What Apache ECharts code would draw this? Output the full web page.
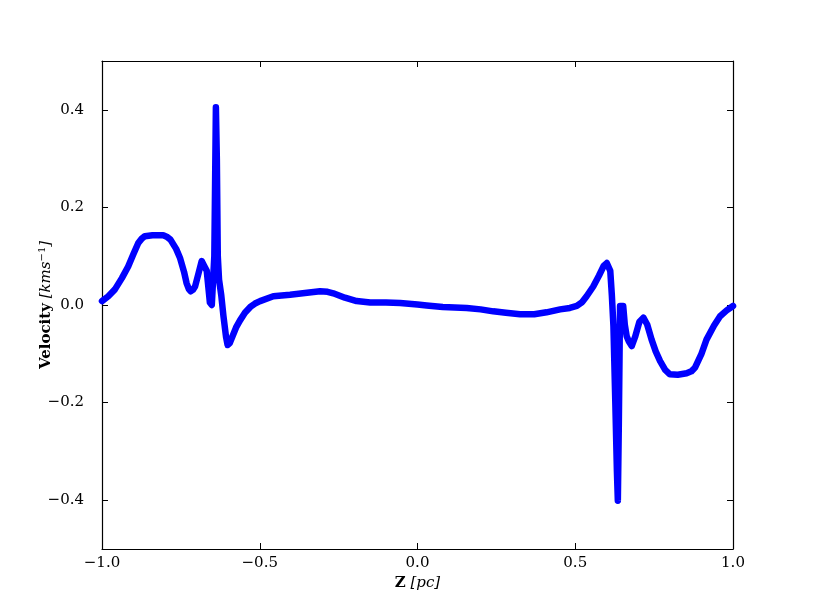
<!DOCTYPE html>
<html><head><meta charset="utf-8">
<script src="https://cdn.jsdelivr.net/npm/echarts@6/dist/echarts.min.js"></script>
<style>html,body{margin:0;padding:0;background:#fff}#c{width:814px;height:610px}</style>
</head><body><div id="c"></div>
<script>
const zValues = [-1.0,-0.98,-0.959,-0.937,-0.917,-0.9,-0.885,-0.874,-0.864,-0.852,-0.84,-0.82,-0.806,-0.795,-0.783,-0.765,-0.753,-0.74,-0.732,-0.725,-0.719,-0.712,-0.705,-0.694,-0.684,-0.676,-0.668,-0.663,-0.658,-0.652,-0.647,-0.644,-0.639,-0.636,-0.633,-0.629,-0.622,-0.615,-0.607,-0.602,-0.595,-0.585,-0.575,-0.563,-0.547,-0.53,-0.515,-0.499,-0.457,-0.404,-0.35,-0.309,-0.285,-0.267,-0.23,-0.193,-0.15,-0.1,-0.055,0.0,0.029,0.08,0.156,0.2,0.24,0.28,0.325,0.37,0.409,0.452,0.483,0.505,0.522,0.536,0.557,0.575,0.59,0.6,0.606,0.611,0.616,0.621,0.627,0.632,0.635,0.638,0.642,0.647,0.652,0.657,0.663,0.67,0.679,0.69,0.703,0.716,0.728,0.742,0.755,0.769,0.785,0.8,0.825,0.853,0.868,0.88,0.9,0.916,0.94,0.959,0.98,1.0];
const velocity = [0.008,0.018,0.032,0.055,0.079,0.105,0.127,0.136,0.141,0.142,0.143,0.143,0.143,0.140,0.134,0.115,0.097,0.068,0.045,0.033,0.028,0.031,0.038,0.065,0.090,0.080,0.070,0.066,0.005,0.0,0.0,0.1,0.405,0.3,0.1,0.052,0.02,-0.023,-0.065,-0.082,-0.078,-0.062,-0.046,-0.032,-0.016,-0.004,0.003,0.008,0.018,0.021,0.025,0.028,0.027,0.024,0.015,0.008,0.005,0.005,0.004,0.001,-0.001,-0.004,-0.006,-0.009,-0.013,-0.016,-0.019,-0.019,-0.015,-0.009,-0.006,-0.002,0.006,0.018,0.038,0.06,0.08,0.086,0.082,0.07,0.02,-0.043,-0.2,-0.34,-0.401,-0.25,-0.002,-0.002,-0.002,-0.04,-0.064,-0.075,-0.084,-0.065,-0.035,-0.026,-0.04,-0.071,-0.095,-0.115,-0.133,-0.142,-0.143,-0.140,-0.136,-0.128,-0.1,-0.071,-0.042,-0.023,-0.011,-0.002];
const xTicks = [-1.0,-0.5,0.0,0.5,1.0];
const yTicks = [-0.4,-0.2,0.0,0.2,0.4];

const chart = echarts.init(document.getElementById('c'));
const font = 'DejaVu Serif';
const lab = {fontFamily: font, fontSize: 15, color: '#000'};
const fmt = v => (v < 0 ? '\u2212' : '') + Math.abs(v).toFixed(1);
const axisBase = {
  type: 'value', splitLine: {show: false},
  axisLine: {show: true, onZero: false, lineStyle: {color: '#000', width: 1.2}},
  axisTick: {show: true, inside: true, length: 6, lineStyle: {color: '#000'}}
};
chart.setOption({
  animation: false,
  grid: {left: 102, right: 81, top: 61, bottom: 61},
  xAxis: [
    Object.assign({}, axisBase, {min: -1, max: 1, position: 'bottom',
      axisTick: Object.assign({}, axisBase.axisTick, {customValues: xTicks}),
      axisLabel: Object.assign({}, lab, {customValues: xTicks, formatter: fmt, margin: 7}),
      name: '{b|Z} {i|[pc]}', nameLocation: 'middle', nameGap: 26,
      nameTextStyle: {fontFamily: font, fontSize: 15, color: '#000', rich: {
        b: {fontFamily: font, fontSize: 15, fontWeight: 'bold', color: '#000'},
        i: {fontFamily: font, fontSize: 15, fontStyle: 'italic', color: '#000'}}}}),
    Object.assign({}, axisBase, {min: -1, max: 1, position: 'top',
      axisTick: Object.assign({}, axisBase.axisTick, {customValues: xTicks}),
      axisLabel: {show: false}})
  ],
  yAxis: [
    Object.assign({}, axisBase, {min: -0.5, max: 0.5, position: 'left',
      axisTick: Object.assign({}, axisBase.axisTick, {customValues: yTicks}),
      axisLabel: Object.assign({}, lab, {customValues: yTicks, formatter: fmt, margin: 18}),
      name: '{b|Velocity} {i|[kms}{s|\u22121}{i|]}', nameLocation: 'middle', nameGap: 47, nameRotate: 90,
      nameMoveOverlap: false,
      nameTextStyle: {fontFamily: font, fontSize: 15, color: '#000', rich: {
        b: {fontFamily: font, fontSize: 15, fontWeight: 'bold', color: '#000'},
        i: {fontFamily: font, fontSize: 15, fontStyle: 'italic', color: '#000'},
        s: {fontFamily: font, fontSize: 10, color: '#000', verticalAlign: 'top', padding: [0, 0, 8, 0]}}}}),
    Object.assign({}, axisBase, {min: -0.5, max: 0.5, position: 'right',
      axisTick: Object.assign({}, axisBase.axisTick, {customValues: yTicks}),
      axisLabel: {show: false}})
  ],
  series: [{
    type: 'line', xAxisIndex: 0, yAxisIndex: 0, showSymbol: false, smooth: false,
    lineStyle: {color: '#0000ff', width: 6.5, join: 'round', cap: 'round'},
    data: zValues.map((z, i) => [z, velocity[i]])
  }]
});
</script></body></html>
